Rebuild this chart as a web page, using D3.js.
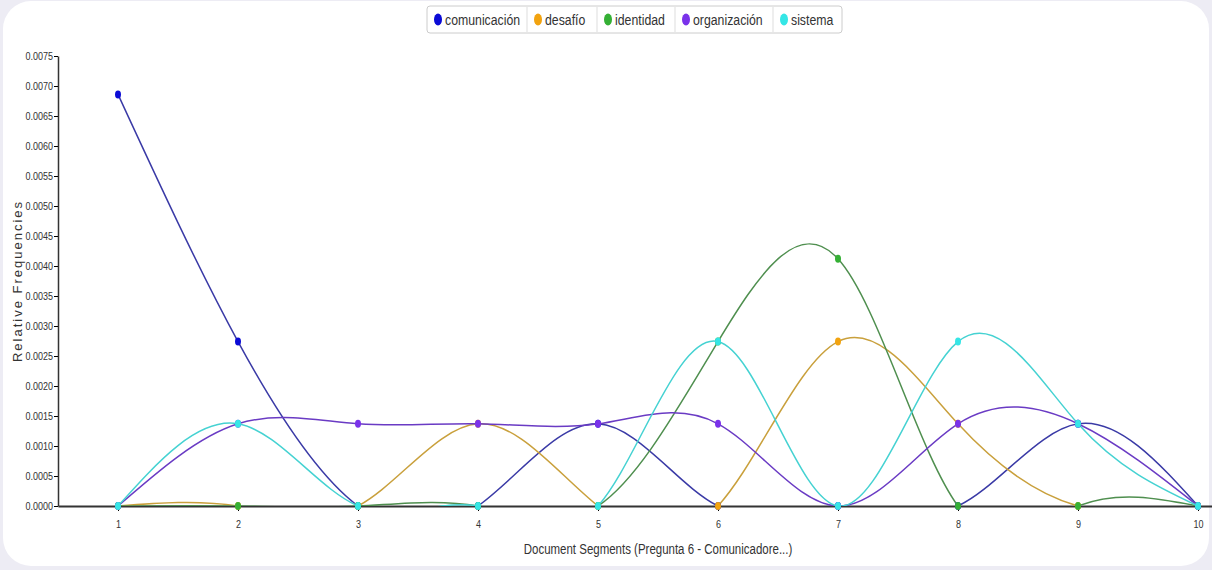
<!DOCTYPE html>
<html>
<head>
<meta charset="utf-8">
<script src="https://cdn.jsdelivr.net/npm/d3@7"></script>
<style>
  body { margin: 0; background: #edecf4; }
  svg { display: block; }
  text { font-family: 'Liberation Sans', Arial, sans-serif; }
  .tick text { fill: #333; }
</style>
</head>
<body>
<svg id="chart"></svg>
<script>
const WIDTH  = 1212;
const HEIGHT = 570;
const SQUEEZE = 0.82; // the original fonts are narrow

// segments of the document
const segments = [1, 2, 3, 4, 5, 6, 7, 8, 9, 10];

// relative frequencies
const comunicacion = [0.00686, 0.00274, 0, 0, 0.00137, 0, 0, 0, 0.00137, 0];
const desafio      = [0, 0, 0, 0.00137, 0, 0, 0.00274, 0.00137, 0, 0];
const identidad    = [0, 0, 0, 0, 0, 0.00274, 0.00412, 0, 0, 0];
const organizacion = [0, 0.00137, 0.00137, 0.00137, 0.00137, 0.00137, 0, 0.00137, 0.00137, 0];
const sistema      = [0, 0.00137, 0, 0, 0, 0.00274, 0, 0.00274, 0.00137, 0];

const terms  = ['comunicación', 'desafío', 'identidad', 'organización', 'sistema'];
const values = [comunicacion, desafio, identidad, organizacion, sistema];
const colors = ['#0b0bd6', '#f2a30f', '#35b035', '#7a32ea', '#35e6e6'];
const lineColors = ['#3a3aa6', '#c9a03c', '#4f8f4f', '#6a3bc4', '#45d2d2'];

const yTicks = d3.range(0, 0.00751, 0.0005);

const svg = d3.select('#chart')
  .attr('width', WIDTH)
  .attr('height', HEIGHT);

// white card
svg.append('rect')
  .attr('x', 3).attr('y', 1)
  .attr('width', WIDTH - 6).attr('height', HEIGHT - 5)
  .attr('rx', 28)
  .attr('fill', '#fff');

const x = d3.scaleLinear().domain([0.5, 10.5]).range([58, 1258]);
const y = d3.scaleLinear().domain([0, 0.0075]).range([506, 56]);

svg.append('clipPath').attr('id', 'plot-clip')
  .append('rect')
    .attr('x', 58).attr('y', 0)
    .attr('width', WIDTH).attr('height', y(0));

// axes
const yAxis = svg.append('g')
  .attr('transform', `translate(${x(0.5)},0)`)
  .call(d3.axisLeft(y).tickValues(yTicks).tickFormat(d3.format('.4f')).tickSize(4).tickSizeOuter(0));
yAxis.selectAll('text')
  .attr('font-size', 11)
  .attr('x', -6)
  .attr('transform', `scale(${SQUEEZE},1)`);
yAxis.select('.domain').attr('stroke', '#333').attr('stroke-width', 1.5);

const xAxis = svg.append('g')
  .attr('transform', `translate(0,${y(0)})`)
  .call(d3.axisBottom(x).tickValues(segments).tickFormat(d3.format('d')).tickSize(5).tickSizeOuter(0));
xAxis.selectAll('text')
  .attr('font-size', 11)
  .attr('dy', '1.25em')
  .attr('transform', `scale(${SQUEEZE},1)`);
xAxis.select('.domain').attr('stroke', '#333').attr('stroke-width', 2);

svg.append('text')
  .attr('transform', `translate(22,${(y(0) + y(0.0075)) / 2}) rotate(-90)`)
  .attr('text-anchor', 'middle')
  .attr('font-size', 13)
  .attr('letter-spacing', 2)
  .attr('fill', '#333')
  .text('Relative Frequencies');

svg.append('text')
  .attr('transform', `translate(658,554) scale(${SQUEEZE},1)`)
  .attr('text-anchor', 'middle')
  .attr('font-size', 14)
  .attr('fill', '#333')
  .text('Document Segments (Pregunta 6 - Comunicadore...)');

// lines
const line = d3.line()
  .x((d, i) => x(segments[i]))
  .y(d => y(d))
  .curve(d3.curveNatural);

const series = svg.append('g').attr('class', 'series');

values.forEach((vals, k) => {
  series.append('path')
    .attr('clip-path', 'url(#plot-clip)')
    .attr('d', line(vals))
    .attr('fill', 'none')
    .attr('stroke', lineColors[k])
    .attr('stroke-width', 1.5);
});

values.forEach((vals, k) => {
  series.selectAll(null)
    .data(vals)
    .enter().append('ellipse')
      .attr('cx', (d, i) => x(segments[i]))
      .attr('cy', d => y(d))
      .attr('rx', 3)
      .attr('ry', 4)
      .attr('fill', colors[k]);
});

// legend
const legendX = [427, 527, 597, 675, 773, 842];

const legend = svg.append('g').attr('class', 'legend');
legend.append('rect')
  .attr('x', legendX[0]).attr('y', 6)
  .attr('width', legendX[5] - legendX[0]).attr('height', 27)
  .attr('rx', 3)
  .attr('fill', '#fff')
  .attr('stroke', '#ccc');

terms.forEach((term, k) => {
  const x0 = legendX[k];
  if (k > 0) {
    legend.append('line')
      .attr('x1', x0).attr('x2', x0)
      .attr('y1', 7).attr('y2', 32)
      .attr('stroke', '#ddd');
  }
  legend.append('ellipse')
    .attr('cx', x0 + 11).attr('cy', 19.5)
    .attr('rx', 4).attr('ry', 6)
    .attr('fill', colors[k]);
  legend.append('text')
    .attr('transform', `translate(${x0 + 18},24.5) scale(${SQUEEZE},1)`)
    .attr('font-size', 15)
    .attr('fill', '#333')
    .text(term);
});
</script>
</body>
</html>
